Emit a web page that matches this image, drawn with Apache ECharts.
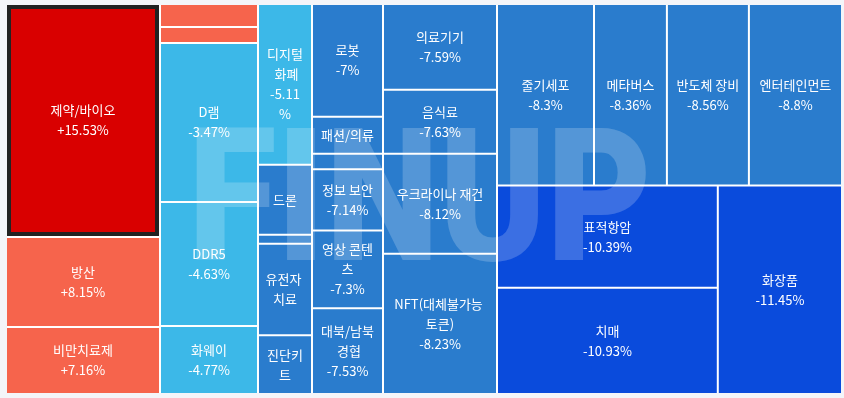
<!DOCTYPE html>
<html>
<head>
<meta charset="utf-8">
<script src="https://cdn.jsdelivr.net/npm/echarts@6/dist/echarts.min.js"></script>
<style>
html,body{margin:0;padding:0;background:#f4f5f9;}
#chart{width:844px;height:398px;}
</style>
</head>
<body>
<div id="chart"></div>
<script>
// Theme names, in the order the tiles are laid out (sorted by daily change)
const names = ['제약/바이오','방산','비만치료제','기타 A','기타 B','D램','DDR5','화웨이','디지털 화폐','드론','기타 C','유전자 치료','진단키트','로봇','패션/의류','기타 D','정보 보안','영상 콘텐츠','대북/남북 경협','의료기기','음식료','우크라이나 재건','NFT(대체불가능 토큰)','줄기세포','메타버스','반도체 장비','엔터테인먼트','표적항암','치매','화장품'];
// Tile weights (relative size, estimated from tile areas)
const sizes = [35882,13860,10318,2254,1568,15582,12152,6664,8678,3780,486,4941,3175,8009,2627,1093,4352,5524,6085,9781,7296,11400,15983,17606,13231,14883,16898,22566,23471,25896];
// Daily change in % (values not printed on the chart are estimates from order and colour)
const changes = [15.53,8.15,7.16,6.5,5.8,-3.47,-4.63,-4.77,-5.11,-6.2,-6.4,-6.6,-6.8,-7,-7.05,-7.1,-7.14,-7.3,-7.53,-7.59,-7.63,-8.12,-8.23,-8.3,-8.36,-8.56,-8.8,-10.39,-10.93,-11.45];
// Tiles whose change is not printed (label shows the name only)
const nameOnly = ['드론','유전자 치료','진단키트','패션/의류'];

function tileColor(c){
  if (c >= 10) return '#d90000';
  if (c >= 0) return '#f6644c';
  if (c >= -6) return '#3cb8e8';
  if (c >= -10) return '#2a7ccd';
  return '#0a4bdc';
}
function fmtPct(c){ return (c > 0 ? '+' : '') + c + '%'; }

const maxChange = Math.max.apply(null, changes);
const data = names.map((n, i) => {
  const item = { name: n, value: sizes[i], itemStyle: { color: tileColor(changes[i]) } };
  if (changes[i] === maxChange) { item.itemStyle.borderWidth = 4; item.itemStyle.borderColor = '#222222'; }
  if (n === '디지털 화폐') { item.label = { padding: [5, 6] }; }
  return item;
});

const chart = echarts.init(document.getElementById('chart'), null, {renderer: 'canvas'});
chart.setOption({
  backgroundColor: '#f4f5f9',
  animation: false,
  series: [{
    type: 'treemap',
    left: 7, top: 5, width: 834, height: 388,
    roam: false,
    nodeClick: false,
    sort: false,
    breadcrumb: { show: false },
    visibleMin: 0,
    upperLabel: { show: false },
    label: {
      show: true,
      position: 'inside',
      color: '#ffffff',
      fontFamily: 'Noto Sans CJK KR',
      fontSize: 13,
      lineHeight: 20,
      padding: 5,
      overflow: 'break',
      formatter: function (p) {
        const i = names.indexOf(p.name);
        if (i < 0) return p.name;
        if (nameOnly.indexOf(p.name) >= 0) return p.name;
        return p.name + '\n' + fmtPct(changes[i]);
      }
    },
    levels: [
      { itemStyle: { gapWidth: 2, borderWidth: 0, borderColor: '#ffffff' } },
      { itemStyle: { gapWidth: 0 } }
    ],
    data: data
  }],
  graphic: [{
    type: 'text',
    left: 188,
    top: 120,
    z: 100,
    silent: true,
    scaleX: 0.87,
    style: {
      text: 'FINUP',
      font: '900 186px Roboto',
      fill: 'rgba(255,255,255,0.2)'
    }
  }]
});
</script>
</body>
</html>
